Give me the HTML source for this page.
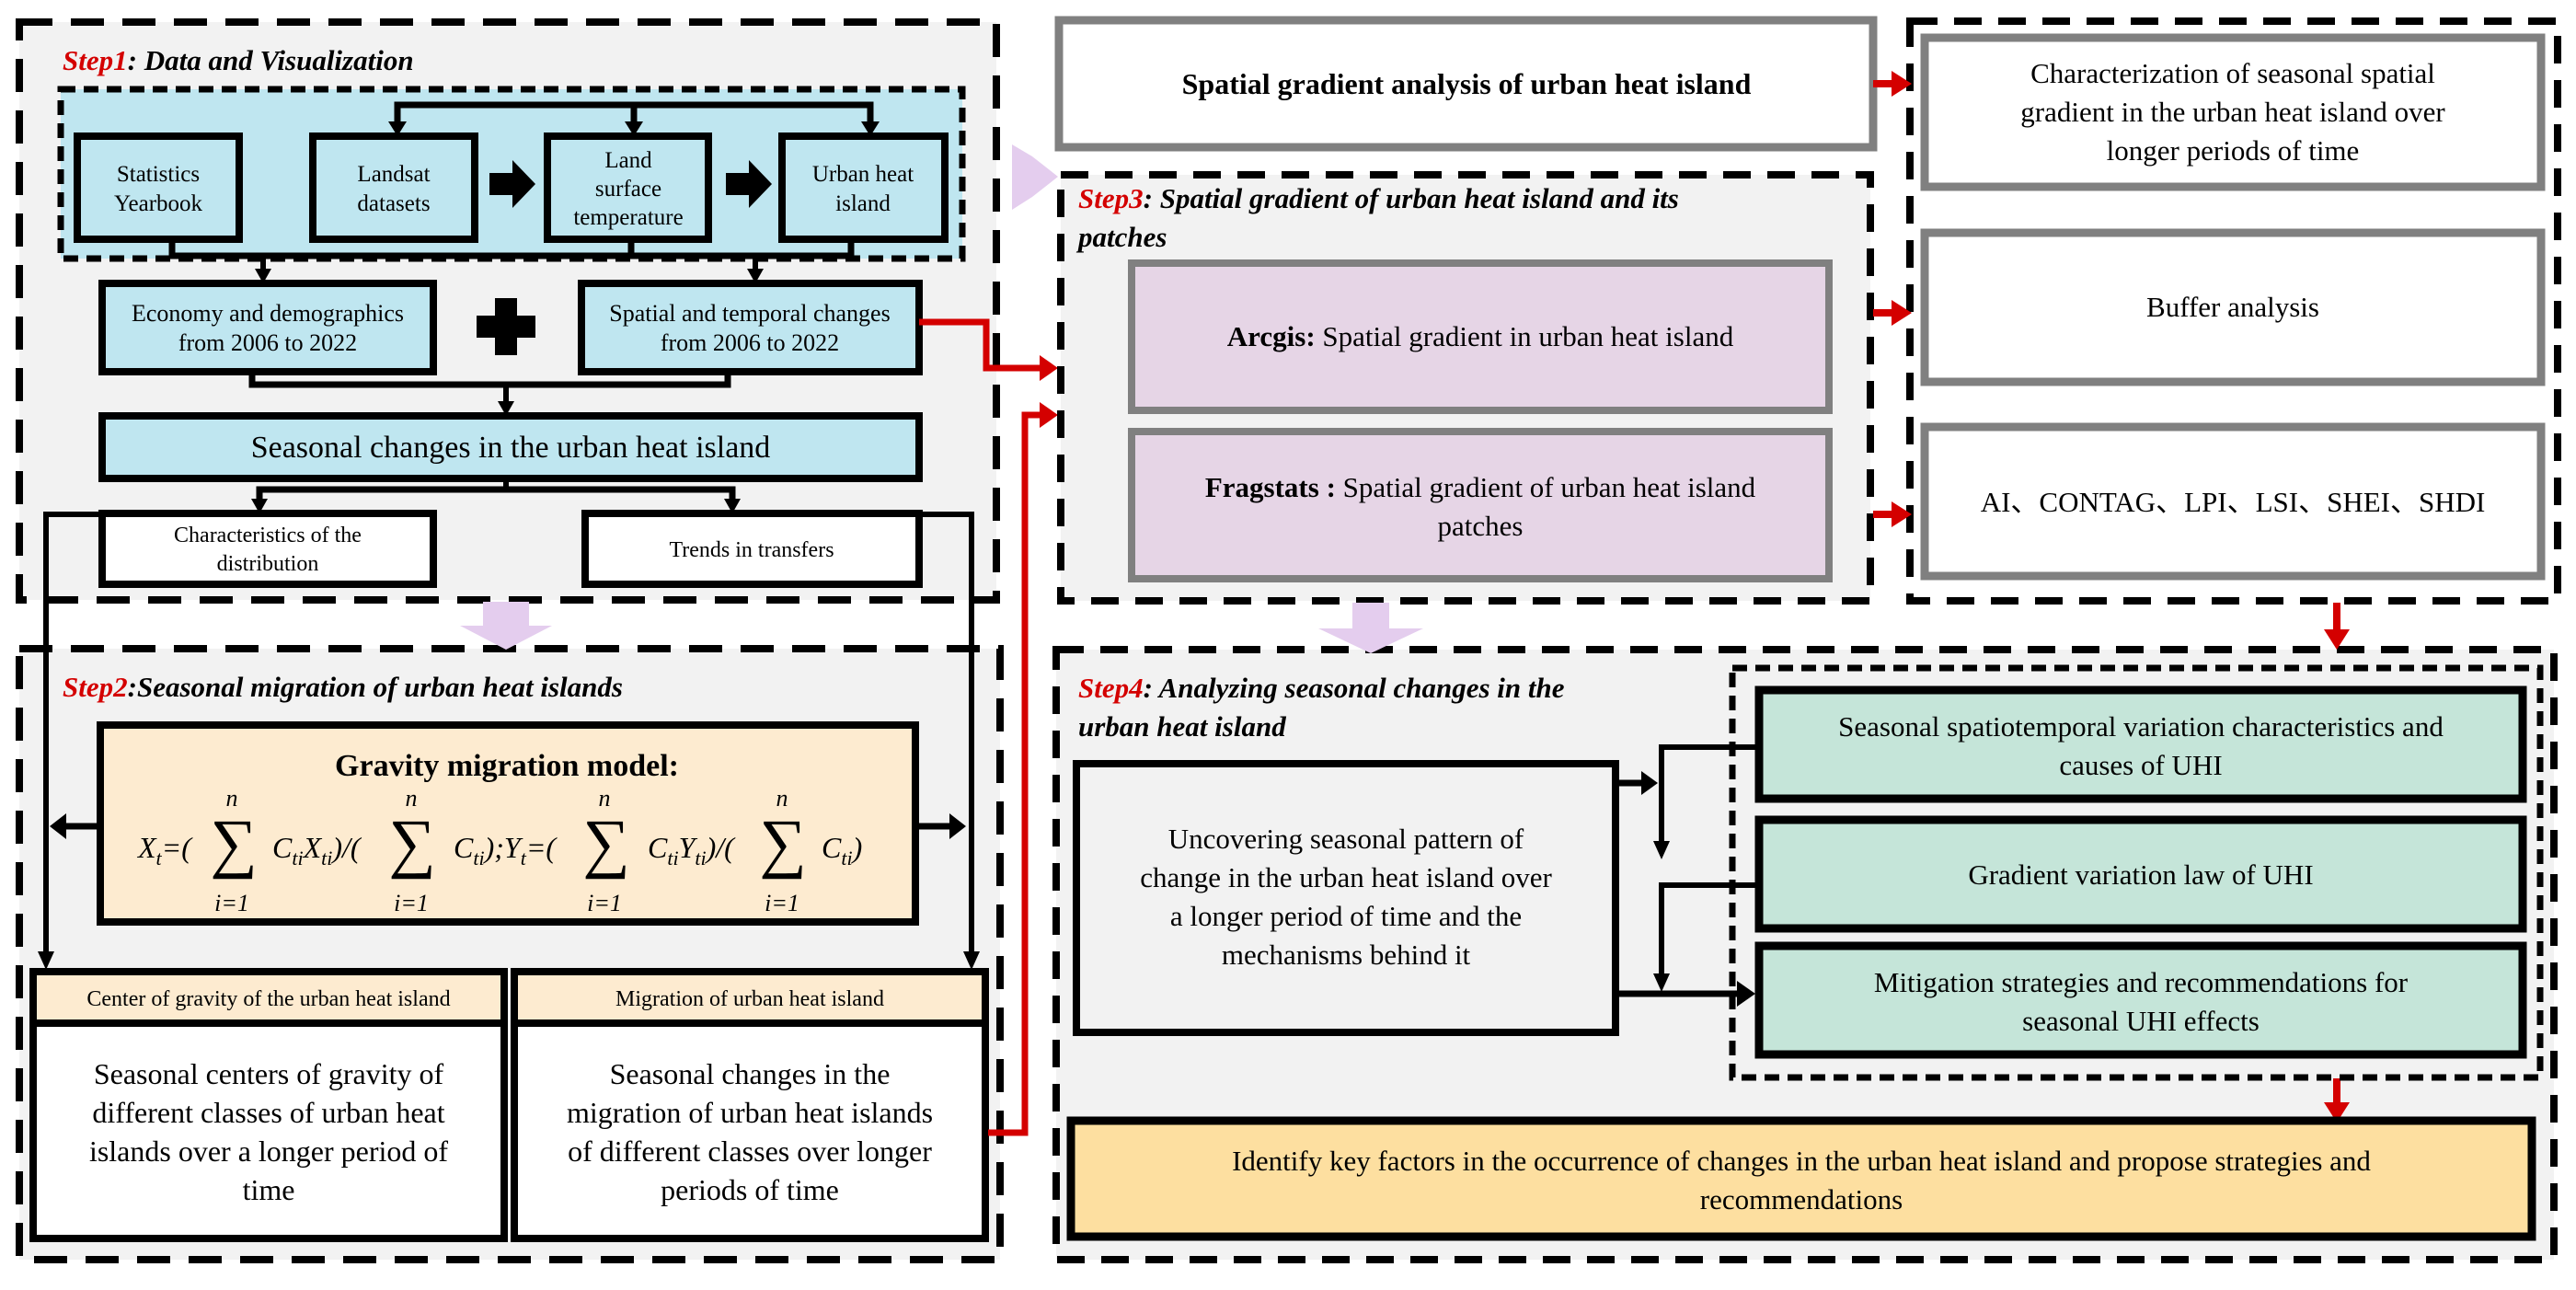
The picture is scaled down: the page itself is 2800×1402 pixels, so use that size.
<!DOCTYPE html>
<html><head><meta charset="utf-8"><style>
html,body{margin:0;padding:0;background:#fff;}
svg{display:block;}
text{font-family:"Liberation Serif","Times New Roman",serif;fill:#000;}
.b{font-weight:bold;}
.t{font-style:italic;font-weight:bold;font-size:31px;}
.r{fill:#d40000;}
</style></head><body>
<svg width="2800" height="1402" viewBox="0 0 2800 1402" xmlns="http://www.w3.org/2000/svg" font-family="Liberation Serif, serif">

<!-- ============ STEP 1 ============ -->
<rect x="21" y="24" width="1062" height="628" fill="#f2f2f2" stroke="#000" stroke-width="8" stroke-dasharray="36 20"/>
<text x="68" y="76" class="t"><tspan class="r">Step1</tspan>: Data and Visualization</text>
<rect x="66" y="97" width="980" height="184" fill="#bfe6f0" stroke="#000" stroke-width="7" stroke-dasharray="16 9"/>
<polyline points="432,140 432,114 946,114 946,140" fill="none" stroke="#000" stroke-width="7"/>
<line x1="689" y1="114" x2="689" y2="140" stroke="#000" stroke-width="7"/>
<path d="M422,132 L442,132 L432,148 z M679,132 L699,132 L689,148 z M936,132 L956,132 L946,148 z" fill="#000"/>
<g stroke="#000" stroke-width="8" fill="#bfe6f0">
<rect x="84" y="148" width="176" height="112"/>
<rect x="340" y="148" width="176" height="112"/>
<rect x="595" y="148" width="175" height="112"/>
<rect x="850" y="148" width="177" height="112"/>
</g>
<g font-size="25" text-anchor="middle">
<text x="172" y="197">Statistics</text><text x="172" y="229">Yearbook</text>
<text x="428" y="197">Landsat</text><text x="428" y="229">datasets</text>
<text x="683" y="182">Land</text><text x="683" y="213">surface</text><text x="683" y="244">temperature</text>
<text x="938" y="197">Urban heat</text><text x="938" y="229">island</text>
</g>
<path d="M532,188 L557,188 L557,174 L582,200 L557,226 L557,212 L532,212 z" fill="#000"/>
<path d="M789,188 L814,188 L814,174 L839,200 L814,226 L814,212 L789,212 z" fill="#000"/>
<polyline points="187,262 187,278 925,278 925,262" fill="none" stroke="#000" stroke-width="7"/>
<line x1="686" y1="262" x2="686" y2="278" stroke="#000" stroke-width="7"/>
<line x1="286" y1="278" x2="286" y2="296" stroke="#000" stroke-width="6"/>
<line x1="821" y1="278" x2="821" y2="296" stroke="#000" stroke-width="6"/>
<path d="M277,292 L295,292 L286,308 z M812,292 L830,292 L821,308 z" fill="#000"/>
<rect x="111" y="308" width="360" height="96" fill="#bfe6f0" stroke="#000" stroke-width="8"/>
<rect x="632" y="308" width="367" height="96" fill="#bfe6f0" stroke="#000" stroke-width="8"/>
<g font-size="26" text-anchor="middle">
<text x="291" y="349">Economy and demographics</text><text x="291" y="381">from 2006 to 2022</text>
<text x="815" y="349">Spatial and temporal changes</text><text x="815" y="381">from 2006 to 2022</text>
</g>
<path d="M538,324 L562,324 L562,343 L582,343 L582,367 L562,367 L562,386 L538,386 L538,367 L518,367 L518,343 L538,343 z" fill="#000"/>
<polyline points="274,404 274,418 791,418 791,404" fill="none" stroke="#000" stroke-width="7"/>
<line x1="550" y1="418" x2="550" y2="440" stroke="#000" stroke-width="6"/>
<path d="M541,436 L559,436 L550,452 z" fill="#000"/>
<rect x="111" y="452" width="888" height="68" fill="#bfe6f0" stroke="#000" stroke-width="8"/>
<text x="555" y="497" font-size="34" text-anchor="middle">Seasonal changes in the urban heat island</text>
<line x1="550" y1="520" x2="550" y2="532" stroke="#000" stroke-width="6"/>
<polyline points="282,546 282,532 796,532 796,546" fill="none" stroke="#000" stroke-width="7"/>
<path d="M273,542 L291,542 L282,558 z M787,542 L805,542 L796,558 z" fill="#000"/>
<!-- outer lines -->
<polyline points="111,559 50,559 50,1040" fill="none" stroke="#000" stroke-width="6"/>
<polyline points="999,559 1056,559 1056,1040" fill="none" stroke="#000" stroke-width="6"/>
<!-- char/trends boxes -->
<rect x="111" y="558" width="360" height="77" fill="#fff" stroke="#000" stroke-width="8"/>
<rect x="636" y="558" width="363" height="77" fill="#fff" stroke="#000" stroke-width="8"/>
<g font-size="24" text-anchor="middle">
<text x="291" y="589">Characteristics of the</text>
<text x="291" y="620">distribution</text>
<text x="817" y="605">Trends in transfers</text>
</g>

<!-- ============ STEP 2 ============ -->
<rect x="21" y="705" width="1066" height="664" fill="#f2f2f2" stroke="#000" stroke-width="8" stroke-dasharray="36 20"/>
<line x1="50" y1="690" x2="50" y2="1040" stroke="#000" stroke-width="6"/>
<line x1="1056" y1="690" x2="1056" y2="1040" stroke="#000" stroke-width="6"/>
<path d="M41,1034 L59,1034 L50,1054 z M1047,1034 L1065,1034 L1056,1054 z" fill="#000"/>
<polygon points="525,654 575,654 575,680 600,680 550,706 500,680 525,680" fill="#e4cdee"/>
<text x="68" y="757" class="t"><tspan class="r">Step2</tspan>:Seasonal migration of urban heat islands</text>
<rect x="109" y="788" width="886" height="214" fill="#fdebd0" stroke="#000" stroke-width="8"/>
<line x1="105" y1="898" x2="70" y2="898" stroke="#000" stroke-width="7"/>
<path d="M72,884 L54,898 L72,912 z" fill="#000"/>
<line x1="999" y1="898" x2="1034" y2="898" stroke="#000" stroke-width="7"/>
<path d="M1032,884 L1050,898 L1032,912 z" fill="#000"/>
<text x="551" y="843" font-size="34" class="b" text-anchor="middle">Gravity migration model:</text>
<g font-style="italic" font-size="32">
<text x="150" y="932">X<tspan font-size="22" dy="8">t</tspan><tspan dy="-8">=(</tspan></text>
<text x="296" y="932">C<tspan font-size="22" dy="8">ti</tspan><tspan dy="-8">X</tspan><tspan font-size="22" dy="8">ti</tspan><tspan dy="-8">)/(</tspan></text>
<text x="493" y="932">C<tspan font-size="22" dy="8">ti</tspan><tspan dy="-8">);Y</tspan><tspan font-size="22" dy="8">t</tspan><tspan dy="-8">=(</tspan></text>
<text x="704" y="932">C<tspan font-size="22" dy="8">ti</tspan><tspan dy="-8">Y</tspan><tspan font-size="22" dy="8">ti</tspan><tspan dy="-8">)/(</tspan></text>
<text x="893" y="932">C<tspan font-size="22" dy="8">ti</tspan><tspan dy="-8">)</tspan></text>
</g>
<g text-anchor="middle">
<g font-size="72"><text x="254" y="940">∑</text><text x="448" y="940">∑</text><text x="659" y="940">∑</text><text x="851" y="940">∑</text></g>
<g font-size="26" font-style="italic"><text x="252" y="876">n</text><text x="447" y="876">n</text><text x="657" y="876">n</text><text x="850" y="876">n</text>
<text x="252" y="990">i=1</text><text x="447" y="990">i=1</text><text x="657" y="990">i=1</text><text x="850" y="990">i=1</text></g>
</g>
<rect x="36" y="1056" width="512" height="290" fill="#fff" stroke="#000" stroke-width="8"/>
<rect x="40" y="1060" width="504" height="50" fill="#fdebd0"/>
<line x1="36" y1="1112" x2="548" y2="1112" stroke="#000" stroke-width="8"/>
<rect x="559" y="1056" width="512" height="290" fill="#fff" stroke="#000" stroke-width="8"/>
<rect x="563" y="1060" width="504" height="50" fill="#fdebd0"/>
<line x1="559" y1="1112" x2="1071" y2="1112" stroke="#000" stroke-width="8"/>
<g font-size="24" text-anchor="middle">
<text x="292" y="1093">Center of gravity of the urban heat island</text>
<text x="815" y="1093">Migration of urban heat island</text>
</g>
<g font-size="32" text-anchor="middle">
<text x="292" y="1178">Seasonal centers of gravity of</text>
<text x="292" y="1220">different classes of urban heat</text>
<text x="292" y="1262">islands over a longer period of</text>
<text x="292" y="1304">time</text>
<text x="815" y="1178">Seasonal changes in the</text>
<text x="815" y="1220">migration of urban heat islands</text>
<text x="815" y="1262">of different classes over longer</text>
<text x="815" y="1304">periods of time</text>
</g>

<!-- red connectors -->
<polyline points="999,350 1072,350 1072,400 1136,400" fill="none" stroke="#d40000" stroke-width="7"/>
<path d="M1130,386 L1150,400 L1130,414 z" fill="#d40000"/>
<polyline points="1074,1231 1114,1231 1114,451 1136,451" fill="none" stroke="#d40000" stroke-width="7"/>
<path d="M1130,437 L1150,451 L1130,465 z" fill="#d40000"/>
<polygon points="1100,157 1122,170 1150,192 1122,214 1100,228" fill="#e4cdee"/>

<!-- ============ STEP 3 ============ -->
<rect x="1151" y="22" width="885" height="138" fill="#fff" stroke="#808080" stroke-width="9"/>
<text x="1594" y="102" font-size="32" class="b" text-anchor="middle">Spatial gradient analysis of urban heat island</text>
<rect x="1153" y="190" width="880" height="463" fill="#f2f2f2" stroke="#000" stroke-width="8" stroke-dasharray="30 18"/>
<text x="1172" y="226" class="t"><tspan class="r">Step3</tspan>: Spatial gradient of urban heat island and its</text>
<text x="1172" y="268" class="t">patches</text>
<rect x="1230" y="286" width="758" height="160" fill="#e6d5e6" stroke="#808080" stroke-width="8"/>
<text x="1609" y="376" font-size="31" text-anchor="middle"><tspan class="b">Arcgis:</tspan> Spatial gradient in urban heat island</text>
<rect x="1230" y="469" width="758" height="160" fill="#e6d5e6" stroke="#808080" stroke-width="8"/>
<text x="1609" y="540" font-size="31" text-anchor="middle"><tspan class="b">Fragstats :</tspan> Spatial gradient of urban heat island</text>
<text x="1609" y="582" font-size="31" text-anchor="middle">patches</text>

<!-- right column -->
<rect x="2076" y="23" width="704" height="630" fill="#fff" stroke="#000" stroke-width="8" stroke-dasharray="30 18"/>
<g fill="#fff" stroke="#808080" stroke-width="9">
<rect x="2092" y="41" width="670" height="162"/>
<rect x="2092" y="253" width="670" height="162"/>
<rect x="2092" y="464" width="670" height="162"/>
</g>
<g font-size="31" text-anchor="middle">
<text x="2427" y="90">Characterization of seasonal spatial</text>
<text x="2427" y="132">gradient in the urban heat island over</text>
<text x="2427" y="174">longer periods of time</text>
<text x="2427" y="344">Buffer analysis</text>
<text x="2427" y="556">AI、CONTAG、LPI、LSI、SHEI、SHDI</text>
</g>
<g fill="#d40000">
<rect x="2036" y="87" width="22" height="8"/><path d="M2056,77 L2078,91 L2056,105 z"/>
<rect x="2036" y="336" width="22" height="8"/><path d="M2056,326 L2078,340 L2056,354 z"/>
<rect x="2036" y="555" width="22" height="8"/><path d="M2056,545 L2078,559 L2056,573 z"/>
</g>

<!-- ============ STEP 4 ============ -->
<rect x="1148" y="706" width="1628" height="663" fill="#f2f2f2" stroke="#000" stroke-width="8" stroke-dasharray="30 18"/>
<polygon points="1470,655 1510,655 1510,683 1547,683 1490,710 1433,683 1470,683" fill="#e4cdee"/>
<g fill="#d40000">
<rect x="2536" y="655" width="8" height="34"/><path d="M2526,684 L2554,684 L2540,706 z"/>
<rect x="2536" y="1172" width="8" height="32"/><path d="M2526,1198 L2554,1198 L2540,1220 z"/>
</g>
<text x="1172" y="758" class="t"><tspan class="r">Step4</tspan>: Analyzing seasonal changes in the</text>
<text x="1172" y="800" class="t">urban heat island</text>
<rect x="1883" y="726" width="878" height="445" fill="#f2f2f2" stroke="#000" stroke-width="7" stroke-dasharray="16 9"/>
<rect x="1170" y="830" width="586" height="292" fill="#f2f2f2" stroke="#000" stroke-width="8"/>
<g font-size="31" text-anchor="middle">
<text x="1463" y="922">Uncovering seasonal pattern of</text>
<text x="1463" y="964">change in the urban heat island over</text>
<text x="1463" y="1006">a longer period of time and the</text>
<text x="1463" y="1048">mechanisms behind it</text>
</g>
<g fill="#c5e5d9" stroke="#000" stroke-width="9">
<rect x="1912" y="750" width="830" height="118"/>
<rect x="1912" y="891" width="830" height="118"/>
<rect x="1912" y="1028" width="830" height="118"/>
</g>
<g font-size="31" text-anchor="middle">
<text x="2327" y="800">Seasonal spatiotemporal variation characteristics and</text>
<text x="2327" y="842">causes of UHI</text>
<text x="2327" y="961">Gradient variation law of UHI</text>
<text x="2327" y="1078">Mitigation strategies and recommendations for</text>
<text x="2327" y="1120">seasonal UHI effects</text>
</g>
<line x1="1756" y1="851" x2="1788" y2="851" stroke="#000" stroke-width="7"/>
<path d="M1784,838 L1802,851 L1784,864 z" fill="#000"/>
<polyline points="1908,812 1806,812 1806,918" fill="none" stroke="#000" stroke-width="6"/>
<path d="M1797,914 L1815,914 L1806,934 z" fill="#000"/>
<polyline points="1908,962 1806,962 1806,1060" fill="none" stroke="#000" stroke-width="6"/>
<path d="M1797,1058 L1815,1058 L1806,1078 z" fill="#000"/>
<line x1="1756" y1="1080" x2="1892" y2="1080" stroke="#000" stroke-width="7"/>
<path d="M1888,1066 L1908,1080 L1888,1094 z" fill="#000"/>
<rect x="1164" y="1218" width="1588" height="126" fill="#fddfa0" stroke="#000" stroke-width="9"/>
<g font-size="31" text-anchor="middle">
<text x="1958" y="1272">Identify key factors in the occurrence of changes in the urban heat island and propose strategies and</text>
<text x="1958" y="1314">recommendations</text>
</g>
</svg>
</body></html>
